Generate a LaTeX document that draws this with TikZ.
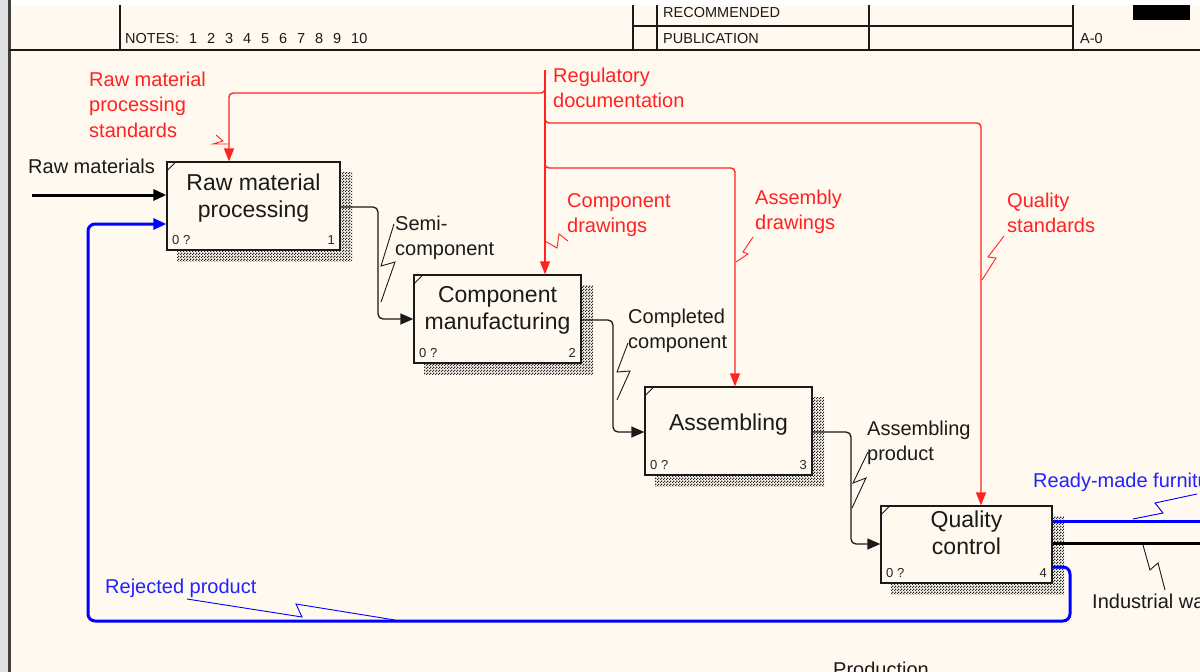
\documentclass[tikz,border=0pt]{standalone}
\usepackage{fontspec}
\setmainfont{Liberation Sans}
\usetikzlibrary{arrows.meta,patterns}
\definecolor{cream}{HTML}{FFF9EF}
\definecolor{ired}{HTML}{FF2222}
\definecolor{iblue}{HTML}{0000FF}
\definecolor{lblue}{HTML}{2222FF}
\definecolor{ink}{HTML}{1A1A1A}
\pgfdeclarepatternformonly{idefdots}{\pgfqpoint{0pt}{0pt}}{\pgfqpoint{3pt}{3pt}}{\pgfqpoint{3pt}{3pt}}{%
  \pgfpathrectangle{\pgfqpoint{0pt}{0pt}}{\pgfqpoint{1.5pt}{1.5pt}}%
  \pgfpathrectangle{\pgfqpoint{1.5pt}{1.5pt}}{\pgfqpoint{1.5pt}{1.5pt}}%
  \pgfusepath{fill}}
\newcommand{\ltwo}[2]{\vtop{\hbox{#1}\hbox{#2}}}
\newcommand{\lthree}[3]{\vtop{\hbox{#1}\hbox{#2}\hbox{#3}}}
\newcommand{\ctwo}[2]{\vtop{\hbox to 0pt{\hss#1\hss}\hbox to 0pt{\hss#2\hss}}}
\begin{document}
\begin{tikzpicture}[x=1pt,y=-1pt,
  idefbox/.style={draw=ink,line width=1.3pt,fill=cream,inner sep=0pt,rectangle},
  shadowfill/.style={pattern=idefdots,pattern color=black!85},
  hdr/.style={draw=ink,line width=1.2pt},
  flow/.style={draw=ink,line width=1.3pt,rounded corners=5pt,-{Triangle[length=13pt,width=11pt]}},
  thickflow/.style={draw=black,line width=3pt,-{Triangle[length=13pt,width=11pt]}},
  thickout/.style={draw=black,line width=3pt},
  ctrl/.style={draw=ired,line width=1.4pt,rounded corners=4pt,-{Triangle[length=13pt,width=10pt]}},
  fbk/.style={draw=iblue,line width=3pt,rounded corners=7pt},
  squig/.style={line width=0.9pt},
  lbl/.style={font=\fontsize{20}{25.5}\selectfont,inner sep=0pt,anchor=base west},
  boxtxt/.style={font=\fontsize{23}{27}\selectfont,inner sep=0pt,anchor=base,text=ink},
  small/.style={font=\fontsize{13}{15}\selectfont,inner sep=0pt,text=black!85},
  hdtxt/.style={font=\fontsize{14.5}{16}\selectfont,inner sep=0pt,anchor=base west,text=ink}]
\useasboundingbox (0,0) rectangle (1200,672);
\clip (0,0) rectangle (1200,672);
% background
\fill[white] (0,0) rectangle (1200,5);
\fill[cream] (0,5) rectangle (1200,672);
\fill[black!12] (0,0) rectangle (8,672);
\draw[black!75,line width=2.2pt] (9.5,0) -- (9.5,672);
% header
\draw[hdr] (9,50) -- (1200,50);
\draw[hdr] (120,5) -- (120,50);
\draw[hdr] (633,5) -- (633,50);
\draw[hdr] (657,5) -- (657,50);
\draw[hdr] (869,5) -- (869,50);
\draw[hdr] (1073,5) -- (1073,50);
\draw[hdr] (633,26) -- (1073,26);
\fill[black] (1133,5) rectangle (1190,20);
\node[hdtxt] (notes) at (125,43) {NOTES:};
\foreach \k [count=\j from 0] in {1,2,3,4,5,6,7,8,9,10} {
  \node[hdtxt] (note\k) at (189+18*\j,43) {\k};
}
\node[hdtxt] (recom) at (663,17) {RECOMMENDED};
\node[hdtxt] (publ) at (663,43) {PUBLICATION};
\node[hdtxt] (anode) at (1080,43) {A-0};
% boxes
\foreach \n/\l/\t/\r/\b in {1/167/162/340/250,2/414/275/581/363,3/645/387/812/475,4/881/506/1052/583} {
  \fill[shadowfill] (\l+10,\t+10) rectangle (\r+12,\b+11);
  \node[idefbox,minimum width={(\r-\l)*1pt},minimum height={(\b-\t)*1pt}] (b\n) at ({(\l+\r)/2},{(\t+\b)/2}) {};
  \draw[ink,line width=0.8pt] (b\n.north west) ++(0,10) -- ++(10,-10);
  \node[small,anchor=base west] (z\n) at (\l+5,\b-6) {0 ?};
  \node[small,anchor=base east] (k\n) at (\r-5,\b-6) {\n};
}
\node[boxtxt] (t1) at (253.5,190) {\ctwo{Raw material}{processing}};
\node[boxtxt] (t2) at (497.5,302) {\ctwo{Component}{manufacturing}};
\node[boxtxt] (t3) at (728.5,430) {Assembling};
\node[boxtxt] (t4) at (966.5,527) {\ctwo{Quality}{control}};
% black flows
\coordinate (rawin) at (32,195);
\draw[thickflow] (rawin) -- (rawin -| b1.west);
\coordinate (s1) at (378,207); \coordinate (s2) at (378,319);
\draw[flow] (b1.east |- s1) -- (s1) -- (s2) -- (b2.west |- s2);
\coordinate (c1) at (613,320); \coordinate (c2) at (613,432);
\draw[flow] (b2.east |- c1) -- (c1) -- (c2) -- (b3.west |- c2);
\coordinate (a1) at (851,432); \coordinate (a2) at (851,544);
\draw[flow] (b3.east |- a1) -- (a1) -- (a2) -- (b4.west |- a2);
% outputs of box 4
\coordinate (rmf) at (1205,521);
\draw[fbk] (b4.east |- rmf) -- (rmf);
\coordinate (iw) at (1205,543);
\draw[thickout] (b4.east |- iw) -- (iw);
\coordinate (f1) at (1070,567); \coordinate (f2) at (1070,621);
\coordinate (f3) at (88,621); \coordinate (f4) at (88,224);
\draw[fbk,-{Triangle[length=13pt,width=11pt]}] (b4.east |- f1) -- (f1) -- (f2) -- (f3) -- (f4) -- (f4 -| b1.west);
% red controls
\coordinate (rtop) at (545,70);
\draw[ctrl] (rtop) -- (rtop |- b2.north);
\coordinate (j1) at (545,88); \coordinate (j1b) at (545,93); \coordinate (r1) at (229,93);
\draw[ctrl] (j1) -- (j1b) -- (r1) -- (r1 |- b1.north);
\coordinate (j2) at (545,118); \coordinate (j2b) at (545,123); \coordinate (r2) at (981,123);
\draw[ctrl] (j2) -- (j2b) -- (r2) -- (r2 |- b4.north);
\coordinate (j3) at (545,163); \coordinate (j3b) at (545,168); \coordinate (r3) at (735,168);
\draw[ctrl] (j3) -- (j3b) -- (r3) -- (r3 |- b3.north);
% labels
\node[lbl,text=ink] (lraw) at (28,173) {Raw materials};
\node[lbl,text=ink] (lsemi) at (395,230) {\ltwo{Semi-}{component}};
\node[lbl,text=ink] (lcomp) at (628,323) {\ltwo{Completed}{component}};
\node[lbl,text=ink] (lasm) at (867,435) {\ltwo{Assembling}{product}};
\node[lbl,text=ink] (lind) at (1092,608) {Industrial waste};
\node[lbl,text=ink] (lprod) at (833,676) {Production};
\node[lbl,text=ired] (lrms) at (89,86) {\lthree{Raw material}{processing}{standards}};
\node[lbl,text=ired] (lreg) at (553,82) {\ltwo{Regulatory}{documentation}};
\node[lbl,text=ired] (lcd) at (567,207) {\ltwo{Component}{drawings}};
\node[lbl,text=ired] (lad) at (755,204) {\ltwo{Assembly}{drawings}};
\node[lbl,text=ired] (lqs) at (1007,207) {\ltwo{Quality}{standards}};
\node[lbl,text=lblue] (lrmf) at (1033,487) {Ready-made furniture};
\node[lbl,text=lblue] (lrej) at (105,593) {Rejected product};
% squiggles
\draw[squig,ink] (394,224) -- (381,266) -- (395,262) -- (381,302);
\draw[squig,ink] (628,343) -- (617,372) -- (630,371) -- (617,400);
\draw[squig,ink] (868,452) -- (853,483) -- (866,478) -- (852,508);
\draw[squig,ink] (1143,545) -- (1150,570) -- (1158,563) -- (1165,590);
\draw[squig,iblue] (187,599) -- (302,617) -- (296,604) -- (395,620);
\draw[squig,iblue] (1197,494) -- (1155,503) -- (1163,513) -- (1133,519);
\draw[squig,ired] (216,135) -- (223,141) -- (213,144) -- (229,144);
\draw[squig,ired] (568,241) -- (559,234) -- (557,248) -- (545,241);
\draw[squig,ired] (753,237) -- (743,252) -- (748,254) -- (736,262);
\draw[squig,ired] (1004,236) -- (988,257) -- (996,258) -- (982,280);
\end{tikzpicture}
\end{document}
